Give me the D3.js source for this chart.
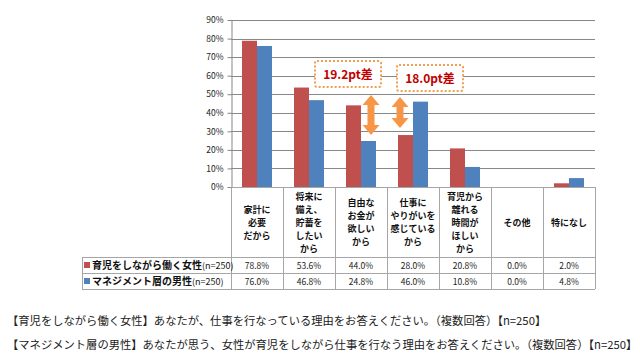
<!DOCTYPE html>
<html><head><meta charset="utf-8">
<script src="https://cdn.jsdelivr.net/npm/d3@7"></script>
<style>
html,body{margin:0;padding:0;background:#fff;}
svg{display:block;}
text{font-family:"Noto Sans CJK JP","Noto Sans",sans-serif;}
</style></head>
<body><svg id="c" width="640" height="362"></svg>
<script>
const categories = [
  ["家計に","必要","だから"],
  ["将来に","備え、","貯蓄を","したい","から"],
  ["自由な","お金が","欲しい","から"],
  ["仕事に","やりがいを","感じている","から"],
  ["育児から","離れる","時間が","ほしい","から"],
  ["その他"],
  ["特になし"]
];
const seriesNames = ["育児をしながら働く女性", "マネジメント層の男性"];
const womenValues = [78.8, 53.6, 44.0, 28.0, 20.8, 0.0, 2.0];
const menValues = [76.0, 46.8, 24.8, 46.0, 10.8, 0.0, 4.8];
const yTicks = [0, 10, 20, 30, 40, 50, 60, 70, 80, 90];
const annotationLabels = ["19.2pt差", "18.0pt差"];
const footnotes = [
  "【育児をしながら働く女性】あなたが、仕事を行なっている理由をお答えください。（複数回答）【n=250】",
  "【マネジメント層の男性】あなたが思う、女性が育児をしながら仕事を行なう理由をお答えください。（複数回答）【n=250】"
];

const colors = ["#C0504D", "#4F81BD"];
const svg = d3.select("#c");
const L = 231, R = 595, T = 20, B = 187;
const x = d3.scaleBand().domain(d3.range(categories.length)).range([L, R]);
const xs = d3.scaleBand().domain([0, 1]).range([11, 41]);
const y = d3.scaleLinear().domain([0, 90]).range([B, T]);
const gridColor = "#878787";
const tableColor = "#a6a6a6";

// gridlines
svg.append("g").selectAll("line").data(yTicks.filter(d => d > 0)).join("line")
  .attr("x1", L).attr("x2", R).attr("y1", d => Math.round(y(d)) + 0.5).attr("y2", d => Math.round(y(d)) + 0.5)
  .attr("stroke", gridColor).attr("stroke-width", 1);

// y axis
const yAxis = d3.axisLeft(y).tickValues(yTicks).tickFormat(d => d + "%").tickSize(4).tickSizeOuter(0);
const ga = svg.append("g").attr("transform", `translate(${L + 0.5},0)`).call(yAxis);
ga.select(".domain").attr("stroke", gridColor);
ga.selectAll(".tick line").attr("stroke", gridColor);
ga.selectAll(".tick text").attr("font-family", "DejaVu Sans").attr("font-size", 8.5).attr("fill", "#222").attr("x", -8);

// bars
const series = [womenValues, menValues];
series.forEach((vals, si) => {
  svg.append("g").selectAll("rect").data(vals).join("rect")
    .attr("x", (d, i) => x(i) + xs(si))
    .attr("width", xs.bandwidth())
    .attr("y", d => y(d))
    .attr("height", d => B - y(d))
    .attr("fill", colors[si]);
});

// annotation boxes & arrows
const boxes = [{ci: 2, dx: -20, y0: 61}, {ci: 3, dx: 10, y0: 65}];
boxes.forEach((b, i) => {
  const bx = x(b.ci) + b.dx;
  svg.append("rect").attr("x", bx).attr("y", b.y0).attr("width", 66).attr("height", 26)
    .attr("fill", "#fff").attr("stroke", "#F0A050").attr("stroke-width", 2).attr("stroke-dasharray", "2,2").attr("rx", 2);
  svg.append("text").attr("x", bx + 33).attr("y", b.y0 + 17.5).attr("text-anchor", "middle")
    .attr("font-size", 12).attr("font-weight", "bold").attr("fill", "#C00000").text(annotationLabels[i]);
});
const arrows = [{ci: 2, dx: 36, y0: 95, y1: 135}, {ci: 3, dx: 13, y0: 97, y1: 128}];
arrows.forEach(a => {
  const cx = x(a.ci) + a.dx, hw = 8.5, sw = 3.5, hh = 10;
  const p = [[cx, a.y0], [cx + hw, a.y0 + hh], [cx + sw, a.y0 + hh], [cx + sw, a.y1 - hh], [cx + hw, a.y1 - hh],
    [cx, a.y1], [cx - hw, a.y1 - hh], [cx - sw, a.y1 - hh], [cx - sw, a.y0 + hh], [cx - hw, a.y0 + hh]];
  svg.append("path").attr("d", d3.line()(p) + "Z").attr("fill", "#F79646");
});

// table
const tRow0 = B, tRow1 = 257, tRow2 = 273, tRow3 = 289, legL = 82;
const tg = svg.append("g").attr("stroke", tableColor).attr("stroke-width", 1);
[tRow0].forEach(yy => tg.append("line").attr("x1", L).attr("x2", R).attr("y1", yy + 0.5).attr("y2", yy + 0.5));
[tRow1, tRow2, tRow3].forEach(yy => tg.append("line").attr("x1", legL).attr("x2", R).attr("y1", yy + 0.5).attr("y2", yy + 0.5));
d3.range(categories.length + 1).forEach(i => {
  const xx = i < categories.length ? x(i) : R;
  tg.append("line").attr("x1", Math.round(xx) + 0.5).attr("x2", Math.round(xx) + 0.5).attr("y1", tRow0).attr("y2", tRow3);
});
tg.append("line").attr("x1", legL + 0.5).attr("x2", legL + 0.5).attr("y1", tRow1).attr("y2", tRow3);

// category labels
categories.forEach((lines, i) => {
  const cx = x(i) + x.bandwidth() / 2;
  const mid = (tRow0 + tRow1) / 2;
  const t = svg.append("text").attr("text-anchor", "middle").attr("font-size", 9).attr("font-weight", "bold").attr("fill", "#111");
  lines.forEach((ln, j) => {
    t.append("tspan").attr("x", cx).attr("y", mid - (lines.length - 1) * 13 / 2 + j * 13 + 3.5).text(ln);
  });
});

// legend rows and values
series.forEach((vals, si) => {
  const rTop = si === 0 ? tRow1 : tRow2;
  const cy = rTop + 8;
  svg.append("rect").attr("x", 84).attr("y", cy - 3).attr("width", 6).attr("height", 6).attr("fill", colors[si]);
  const t = svg.append("text").attr("x", 92).attr("y", cy + 3.5).attr("fill", "#111");
  t.append("tspan").attr("font-size", 10).attr("font-weight", "bold").text(seriesNames[si]);
  t.append("tspan").attr("font-size", 9).text("(n=250)");
  svg.append("g").selectAll("text").data(vals).join("text")
    .attr("x", (d, i) => x(i) + x.bandwidth() / 2).attr("y", cy + 3.5)
    .attr("text-anchor", "middle").attr("font-family", "DejaVu Sans").attr("font-size", 8.5).attr("fill", "#222")
    .text(d => d.toFixed(1) + "%");
});

// footnotes
footnotes.forEach((f, i) => {
  svg.append("text").attr("x", 7).attr("y", 325 + i * 24).attr("font-size", 11.3).attr("fill", "#222").text(f);
});
</script></body></html>
